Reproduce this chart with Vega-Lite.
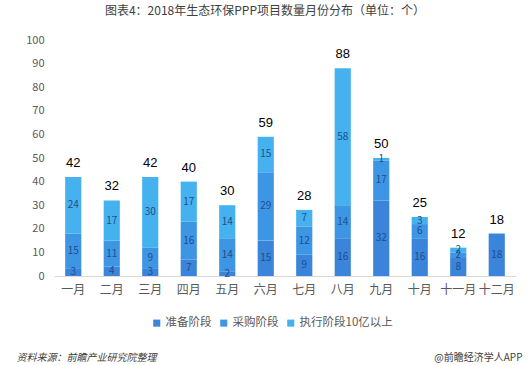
{
  "$schema": "https://vega.github.io/schema/vega-lite/v6.json",
  "width": 462,
  "height": 236,
  "autosize": {"type": "none"},
  "padding": {"left": 54, "top": 40, "right": 15, "bottom": 89},
  "background": "white",
  "title": {
    "text": "图表4：2018年生态环保PPP项目数量月份分布（单位：个）",
    "anchor": "middle",
    "frame": "group",
    "offset": 16,
    "dx": -20,
    "font": "Noto Sans CJK SC",
    "fontSize": 12,
    "fontWeight": "normal",
    "color": "#404040"
  },
  "config": {
    "view": {"stroke": null},
    "font": "Noto Sans CJK SC",
    "axisY": {
      "labelOverlap": false,
      "grid": false,
      "domain": false,
      "ticks": false,
      "labelColor": "#595959",
      "labelFontSize": 11,
      "labelPadding": 10,
      "titleAngle": 0,
      "titleFontSize": 10,
      "titleFontWeight": "normal",
      "titleColor": "#404040",
      "titleAlign": "right",
      "titleBaseline": "middle",
      "titleX": 468,
      "titleY": 317
    }
  },
  "data": {
    "values": [
      {"month": "一月", "stage": "准备阶段", "order": 1, "value": 3},
      {"month": "一月", "stage": "采购阶段", "order": 2, "value": 15},
      {"month": "一月", "stage": "执行阶段10亿以上", "order": 3, "value": 24},
      {"month": "二月", "stage": "准备阶段", "order": 1, "value": 4},
      {"month": "二月", "stage": "采购阶段", "order": 2, "value": 11},
      {"month": "二月", "stage": "执行阶段10亿以上", "order": 3, "value": 17},
      {"month": "三月", "stage": "准备阶段", "order": 1, "value": 3},
      {"month": "三月", "stage": "采购阶段", "order": 2, "value": 9},
      {"month": "三月", "stage": "执行阶段10亿以上", "order": 3, "value": 30},
      {"month": "四月", "stage": "准备阶段", "order": 1, "value": 7},
      {"month": "四月", "stage": "采购阶段", "order": 2, "value": 16},
      {"month": "四月", "stage": "执行阶段10亿以上", "order": 3, "value": 17},
      {"month": "五月", "stage": "准备阶段", "order": 1, "value": 2},
      {"month": "五月", "stage": "采购阶段", "order": 2, "value": 14},
      {"month": "五月", "stage": "执行阶段10亿以上", "order": 3, "value": 14},
      {"month": "六月", "stage": "准备阶段", "order": 1, "value": 15},
      {"month": "六月", "stage": "采购阶段", "order": 2, "value": 29},
      {"month": "六月", "stage": "执行阶段10亿以上", "order": 3, "value": 15},
      {"month": "七月", "stage": "准备阶段", "order": 1, "value": 9},
      {"month": "七月", "stage": "采购阶段", "order": 2, "value": 12},
      {"month": "七月", "stage": "执行阶段10亿以上", "order": 3, "value": 7},
      {"month": "八月", "stage": "准备阶段", "order": 1, "value": 16},
      {"month": "八月", "stage": "采购阶段", "order": 2, "value": 14},
      {"month": "八月", "stage": "执行阶段10亿以上", "order": 3, "value": 58},
      {"month": "九月", "stage": "准备阶段", "order": 1, "value": 32},
      {"month": "九月", "stage": "采购阶段", "order": 2, "value": 17},
      {"month": "九月", "stage": "执行阶段10亿以上", "order": 3, "value": 1},
      {"month": "十月", "stage": "准备阶段", "order": 1, "value": 16},
      {"month": "十月", "stage": "采购阶段", "order": 2, "value": 6},
      {"month": "十月", "stage": "执行阶段10亿以上", "order": 3, "value": 3},
      {"month": "十一月", "stage": "准备阶段", "order": 1, "value": 8},
      {"month": "十一月", "stage": "采购阶段", "order": 2, "value": 2},
      {"month": "十一月", "stage": "执行阶段10亿以上", "order": 3, "value": 2},
      {"month": "十二月", "stage": "准备阶段", "order": 1, "value": 18},
      {"month": "十二月", "stage": "采购阶段", "order": 2, "value": 0},
      {"month": "十二月", "stage": "执行阶段10亿以上", "order": 3, "value": 0}
    ]
  },
  "transform": [
    {"stack": "value", "groupby": ["month"], "sort": [{"field": "order"}], "as": ["v0", "v1"]}
  ],
  "encoding": {
    "x": {
      "field": "month",
      "type": "nominal",
      "sort": ["一月","二月","三月","四月","五月","六月","七月","八月","九月","十月","十一月","十二月"],
      "scale": {"paddingInner": 0.58, "paddingOuter": 0.29},
      "axis": {
        "labelAngle": 0,
        "ticks": false,
        "domainColor": "#d9d9d9",
        "labelColor": "#595959",
        "labelFontSize": 12,
        "labelPadding": 8,
        "title": "资料来源：前瞻产业研究院整理",
        "titleFontSize": 10,
        "titleFontStyle": "italic",
        "titleFontWeight": "normal",
        "titleColor": "#404040",
        "titleAlign": "left",
        "titleBaseline": "middle",
        "titleX": -38,
        "titleY": 81
      }
    }
  },
  "layer": [
    {
      "mark": {"type": "bar"},
      "encoding": {
        "y": {
          "field": "v0",
          "type": "quantitative",
          "scale": {"domain": [0, 100]},
          "axis": {"values": [0,10,20,30,40,50,60,70,80,90,100], "title": "@前瞻经济学人APP"}
        },
        "y2": {"field": "v1"},
        "color": {
          "field": "stage",
          "type": "nominal",
          "sort": ["准备阶段", "采购阶段", "执行阶段10亿以上"],
          "scale": {
            "domain": ["准备阶段", "采购阶段", "执行阶段10亿以上"],
            "range": ["#3a84da", "#3d96e4", "#45b2ef"]
          },
          "legend": {
            "orient": "none",
            "direction": "horizontal",
            "legendX": 97,
            "legendY": 277,
            "title": null,
            "symbolType": "square",
            "symbolSize": 50,
            "symbolStrokeWidth": 0,
            "labelFontSize": 11.5,
            "labelColor": "#595959",
            "columnPadding": 6,
            "labelOffset": 3
          }
        }
      }
    },
    {
      "transform": [
        {"filter": "datum.value > 0"},
        {"fold": ["v0", "v1"], "as": ["edge", "pos"]},
        {"aggregate": [{"op": "mean", "field": "pos", "as": "mid"}], "groupby": ["month", "stage", "value"]}
      ],
      "mark": {"type": "text", "fontSize": 10, "color": "#1f4e8c", "baseline": "middle"},
      "encoding": {
        "y": {"field": "mid", "type": "quantitative", "axis": {"values": [0,10,20,30,40,50,60,70,80,90,100], "title": "@前瞻经济学人APP"}},
        "text": {"field": "value", "type": "quantitative"}
      }
    },
    {
      "transform": [{"aggregate": [{"op": "sum", "field": "value", "as": "total"}], "groupby": ["month"]}],
      "mark": {"type": "text", "fontSize": 13, "color": "#000000", "baseline": "bottom", "dy": -7, "font": "Liberation Sans"},
      "encoding": {
        "y": {"field": "total", "type": "quantitative", "axis": {"values": [0,10,20,30,40,50,60,70,80,90,100], "title": "@前瞻经济学人APP"}},
        "text": {"field": "total", "type": "quantitative"}
      }
    }
  ]
}
